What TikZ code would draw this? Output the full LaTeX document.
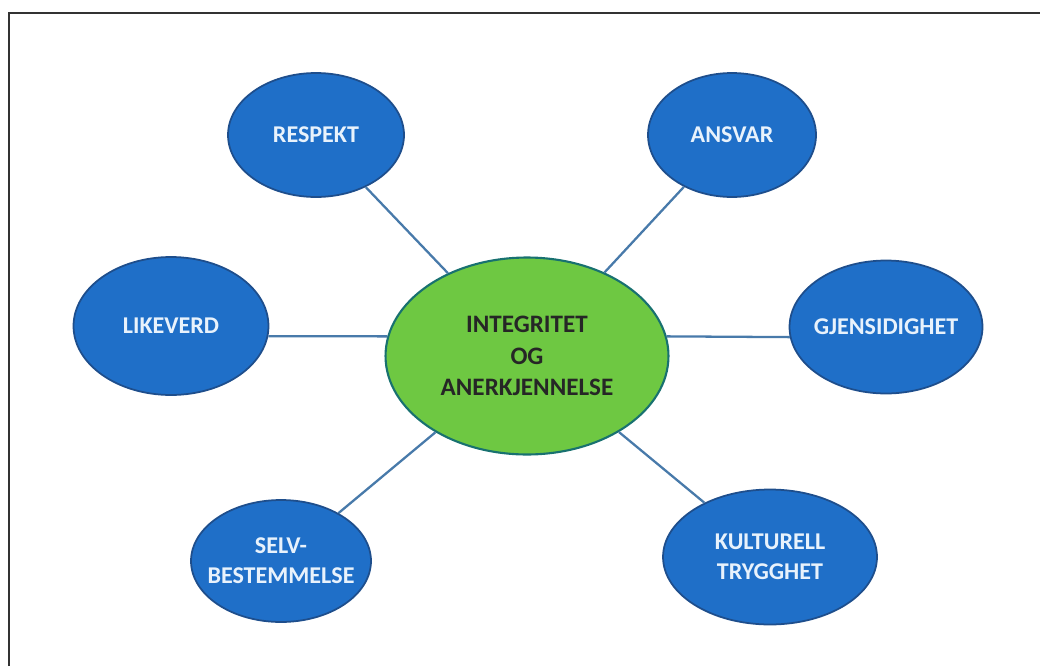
\documentclass[tikz,border=0pt]{standalone}
\usepackage{fontspec}
\setmainfont{Carlito}
\usetikzlibrary{shapes.geometric}
\definecolor{blaafyll}{RGB}{31,111,200}
\definecolor{blaakant}{RGB}{30,78,140}
\definecolor{gronnfyll}{RGB}{110,200,66}
\definecolor{linjefarge}{RGB}{72,122,170}
\definecolor{lystekst}{RGB}{232,242,252}
\tikzset{
  verdi/.style={ellipse, draw=blaakant, line width=1pt, fill=blaafyll,
    inner xsep=-0.3cm, inner ysep=0pt,
    text=lystekst, font=\fontsize{13.7}{17}\selectfont\bfseries, align=center},
  kjerne/.style={ellipse, draw=blaakant!80!green, line width=1.2pt, fill=gronnfyll, inner sep=0pt,
    text=black!85, font=\fontsize{14.3}{18}\selectfont\bfseries, align=center},
  linje/.style={draw=linjefarge, line width=1.3pt}
}
\begin{document}
\begin{tikzpicture}[x=0.02cm, y=-0.02cm]

    % ramme
    \useasboundingbox (0,0) rectangle (1040,666);
    \draw[line width=1.2pt, black!80] (9,666) -- (9,13) -- (1040,13);

    % midten
    \node[kjerne, minimum width=5.66cm, minimum height=3.94cm] (midt) at (527,356) {INTEGRITET\\OG\\ANERKJENNELSE};

    % verdiene rundt
    \node[verdi, minimum width=3.52cm, minimum height=2.48cm] (respekt) at (316,135) {RESPEKT};
    \node[verdi, minimum width=3.36cm, minimum height=2.48cm] (ansvar) at (732,135) {ANSVAR};
    \node[verdi, minimum width=3.90cm, minimum height=2.76cm] (likeverd) at (171,326) {LIKEVERD};
    \node[verdi, minimum width=3.86cm, minimum height=2.66cm] (gjensidighet) at (886,327) {GJENSIDIGHET};
    \node[verdi, minimum width=3.60cm, minimum height=2.44cm] (selv) at (281,561) {SELV-\\BESTEMMELSE};
    \node[verdi, minimum width=4.28cm, minimum height=2.70cm] (kulturell) at (770,557) {KULTURELL\\TRYGGHET};

    % linjer
    \draw[linje] (respekt) -- (midt);
    \draw[linje] (ansvar) -- (midt);
    \draw[linje] (likeverd.-6) -- (midt.172);
    \draw[linje] (gjensidighet.186) -- (midt.8);
    \draw[linje] (selv) -- (midt);
    \draw[linje] (kulturell) -- (midt);

\end{tikzpicture}
\end{document}
